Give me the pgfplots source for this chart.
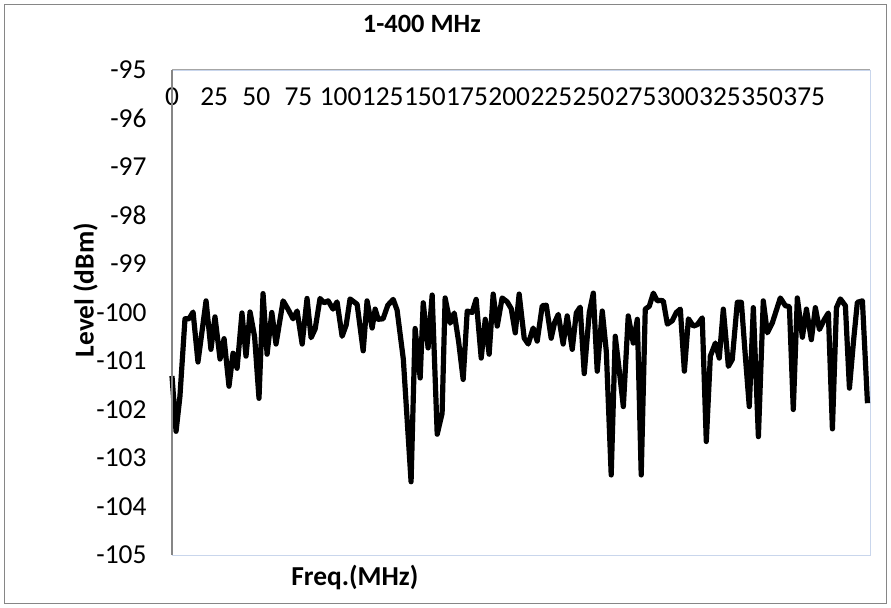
\documentclass[border=0pt]{standalone}
\usepackage{pgfplots}
\pgfplotsset{compat=1.18}
\usepackage{fontspec}
\setmainfont{Carlito}
\definecolor{framegray}{HTML}{868686}
\definecolor{plotblue}{HTML}{C9D6EC}
\begin{document}
\begin{tikzpicture}[x=1bp,y=1bp]
\path[use as bounding box] (-172bp,-53bp) rectangle (719bp,555bp);
\draw[framegray, line width=1bp] (-167bp,-48bp) rectangle (714bp,550bp);
\begin{axis}[
  at={(0,0)}, anchor=south west,
  scale only axis, width=698bp, height=485bp,
  xmin=0, xmax=414, ymin=-105, ymax=-95,
  axis line style={plotblue, line width=0.8bp},
  xtick={0,25,...,375},
  xticklabels={0,25,50,75,100,125,150,175,200,225,250,275,300,325,350,375},
  ytick={-105,-104,...,-95},
  yticklabels={-105,-104,-103,-102,-101,-100,-99,-98,-97,-96,-95},
  major tick length=0pt,
  xticklabel pos=upper,
  xticklabel style={anchor=center, yshift=-27bp, font=\fontsize{27.5}{30}\selectfont},
  yticklabel style={anchor=east, xshift=-22bp, font=\fontsize{27.5}{30}\selectfont},
  title={\textbf{1-400 MHz}},
  title style={at={(axis description cs:0.358,1.0825)}, anchor=center, font=\fontsize{26.5}{30}\selectfont},
  xlabel={\textbf{Freq.(MHz)}},
  xlabel style={at={(axis description cs:0.262,-0.047)}, anchor=center, font=\fontsize{27.5}{30}\selectfont},
  ylabel={\textbf{Level (dBm)}},
  ylabel style={at={(axis description cs:-0.124,0.546)}, anchor=center, font=\fontsize{27.5}{30}\selectfont},
  clip=false,
]
\addplot[black, line width=5.2bp, line join=round, mark=none] coordinates {
(0,-101.31)(2.4,-102.45)(4.7,-101.73)(7.7,-100.13)(10.1,-100.13)(12.5,-99.99)(15.4,-101.02)(20.2,-99.76)(23.1,-100.76)(25.5,-100.09)(28.5,-100.96)(30.9,-100.54)(33.8,-101.52)(36.2,-100.84)(38.6,-101.15)(41.5,-100.01)(43.9,-100.90)(46.3,-99.99)(49,-100.5)(51.6,-101.77)(54.0,-99.61)(56.4,-100.86)(59.2,-100.0)(61.7,-100.65)(65.9,-99.76)(68.8,-99.93)(71.8,-100.13)(74.2,-99.97)(77.2,-100.65)(80.1,-99.71)(82.5,-100.52)(84.9,-100.34)(87.8,-99.71)(90.2,-99.80)(92.6,-99.76)(95.5,-99.93)(97.9,-99.78)(100.9,-100.49)(103.3,-100.26)(105.6,-99.72)(109.8,-99.83)(113.4,-100.79)(115.7,-99.76)(118.7,-100.32)(120.5,-99.93)(122.3,-100.14)(125.2,-100.13)(128,-99.85)(131.2,-99.73)(133.5,-99.95)(137.2,-100.96)(141.8,-103.49)(144.2,-100.33)(147.2,-101.35)(149.0,-99.80)(151.9,-100.73)(154.3,-99.64)(157.3,-102.51)(160.2,-102.08)(162.0,-99.70)(165.0,-100.22)(167.4,-100.01)(170,-100.6)(172.7,-101.38)(175.1,-99.97)(178.0,-100.0)(180.4,-99.73)(183.4,-100.94)(185.8,-100.14)(188.1,-100.86)(190.5,-99.62)(192.9,-100.28)(195.8,-99.70)(198.8,-99.78)(201.2,-99.92)(203.6,-100.42)(205.9,-99.62)(208.9,-100.53)(211.3,-100.65)(214.2,-100.32)(216.6,-100.59)(219.6,-99.86)(222.0,-99.85)(224.9,-100.53)(227,-100.2)(229.1,-100.04)(232.0,-100.65)(234.4,-100.07)(237.4,-100.76)(239.8,-100.01)(242.1,-99.89)(244.5,-101.26)(247.5,-100.0)(249.9,-99.60)(252.2,-101.21)(255.2,-99.97)(257.6,-100.8)(260.5,-103.35)(262.9,-100.49)(265.3,-101.2)(267.7,-101.94)(270.6,-100.07)(273.6,-100.63)(276.0,-100.14)(278.3,-103.35)(280.7,-99.93)(283.1,-99.87)(285.5,-99.60)(287.8,-99.76)(289.6,-99.75)(291.4,-99.76)(293.8,-100.24)(296.7,-100.17)(299.1,-100.0)(301.5,-99.93)(303.9,-101.21)(306.3,-100.13)(309.2,-100.28)(311.6,-100.25)(314.5,-100.11)(316.9,-102.66)(319.3,-100.90)(322.3,-100.63)(324.6,-100.94)(327.0,-99.93)(330.0,-101.11)(332.3,-100.97)(335.3,-99.79)(337.7,-99.79)(340,-100.87)(342.4,-101.94)(344.8,-99.90)(347.8,-102.56)(350.7,-99.76)(353.1,-100.42)(356.1,-100.21)(358.5,-99.95)(360.8,-99.70)(363.8,-99.86)(366.2,-99.88)(368.5,-102.00)(370.9,-99.70)(373.9,-100.51)(376.3,-99.93)(379.2,-100.56)(381.6,-99.90)(384.0,-100.35)(387.0,-100.14)(389.3,-100.01)(391.7,-102.40)(394.1,-99.9)(396.4,-99.72)(399.4,-99.86)(401.8,-101.56)(404.2,-100.6)(406.5,-99.79)(409.5,-99.76)(412.5,-101.87)
};
\end{axis}
\draw[framegray, line width=1.2bp] (0,0) -- (0,485bp);
\draw[gray!70, line width=1bp] (0,485bp) -- (698bp,485bp);
\end{tikzpicture}
\end{document}
